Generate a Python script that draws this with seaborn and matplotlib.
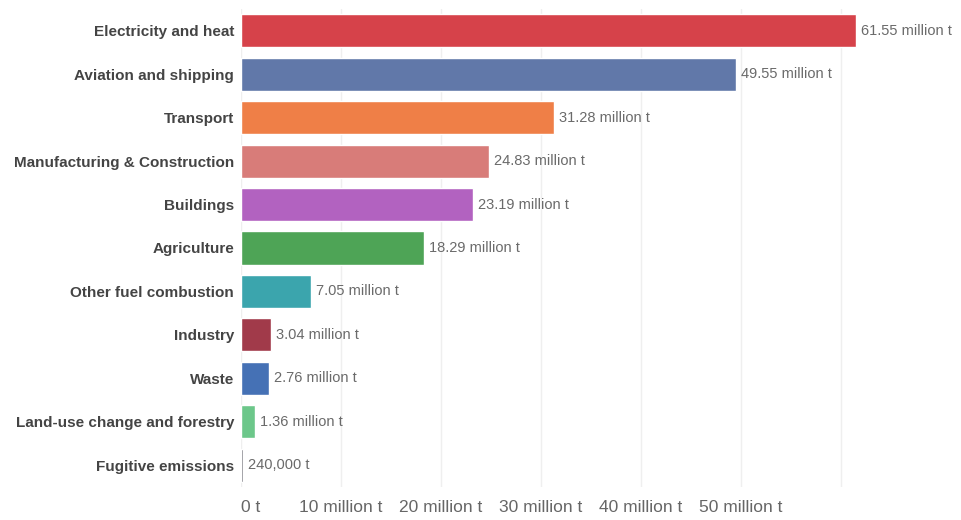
import matplotlib
matplotlib.use("Agg")
import matplotlib.pyplot as plt
import seaborn as sns
import pandas as pd
from matplotlib.ticker import FuncFormatter, MultipleLocator

sectors = ["Electricity and heat", "Aviation and shipping", "Transport",
           "Manufacturing & Construction", "Buildings", "Agriculture",
           "Other fuel combustion", "Industry", "Waste",
           "Land-use change and forestry", "Fugitive emissions"]
values_mt = [61.55, 49.55, 31.28, 24.83, 23.19, 18.29, 7.05, 3.04, 2.76, 1.36, 0.24]
value_labels = ["61.55 million t", "49.55 million t", "31.28 million t",
                "24.83 million t", "23.19 million t", "18.29 million t",
                "7.05 million t", "3.04 million t", "2.76 million t",
                "1.36 million t", "240,000 t"]
colors = ["#d6424a", "#6178a9", "#ef7f47", "#d87c79", "#b262c0", "#4ea456",
          "#3ba5ad", "#a13a4a", "#4571b5", "#6cc78a", "#6e6e76"]

df = pd.DataFrame({"sector": sectors, "value": values_mt})

sns.set_theme(style="white")
plt.rcParams["font.family"] = ["Liberation Sans", "DejaVu Sans"]

fig = plt.figure(figsize=(9.62, 5.2), dpi=100)
ax = fig.add_axes([241 / 962, 33 / 520, 640 / 962, 478 / 520])

sns.barplot(data=df, y="sector", x="value", hue="sector", palette=colors,
            order=sectors, hue_order=sectors, legend=False, width=0.76,
            saturation=1, ax=ax, zorder=3)

ax.set_xlim(0, 64)
ax.set_ylim(len(sectors) - 0.5, -0.5)
ax.xaxis.set_major_locator(MultipleLocator(10))
ax.grid(axis="x", color="#efefef", linewidth=1, zorder=0)
ax.set_axisbelow(True)

def fmt(v, pos):
    if v == 0:
        return "0 t"
    if v > 55:
        return ""
    return f"{int(v)} million t"

ax.xaxis.set_major_formatter(FuncFormatter(fmt))
ax.tick_params(axis="x", labelsize=12.5, colors="#666666", length=0, pad=9)
ax.tick_params(axis="y", labelsize=11, length=0, pad=5)
for lab in ax.get_yticklabels():
    lab.set_fontweight("bold")
    lab.set_color("#444444")
fig.canvas.draw()
for lab in ax.get_xticklabels():
    if lab.get_text() == "0 t":
        lab.set_horizontalalignment("left")
ax.set_xlabel("")
ax.set_ylabel("")

for s in ["top", "right", "bottom", "left"]:
    ax.spines[s].set_visible(False)

for i, (v, lab) in enumerate(zip(values_mt, value_labels)):
    ax.text(v + 0.5, i, lab, va="center", ha="left", fontsize=10.5,
            color="#6a6a6a", zorder=4, clip_on=False)

fig.savefig("out.png", dpi=100, facecolor="white")
